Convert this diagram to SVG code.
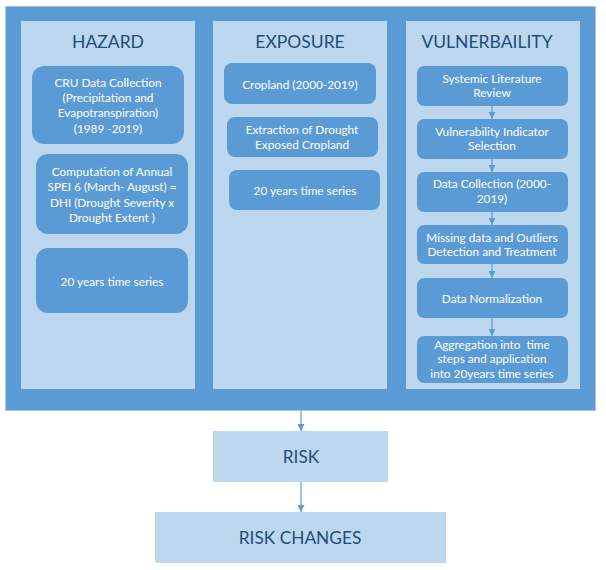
<svg xmlns="http://www.w3.org/2000/svg" width="606" height="570" viewBox="0 0 606 570">
<defs>
<style>
.outer{fill:#5b9bd5;stroke:#a7c7e8;stroke-width:1}
.col{fill:#bdd7ee}
.box{fill:#5b9bd5}
.t{font-family:Lato,"Liberation Sans",sans-serif;font-size:11.8px;fill:#ffffff;text-anchor:middle}
.title{font-family:Lato,"Liberation Sans",sans-serif;font-size:17.5px;fill:#1f4e79;text-anchor:middle}
.res{fill:#bdd7ee}
.rt{font-family:Lato,"Liberation Sans",sans-serif;font-size:17.3px;fill:#1f4e79;text-anchor:middle}
.c{stroke:#5b9bd5;stroke-width:1.2;fill:none;marker-end:url(#ah)}
</style>
<marker id="ah" viewBox="0 0 10 10" refX="10" refY="5" markerWidth="7" markerHeight="7" markerUnits="userSpaceOnUse" orient="auto">
<path d="M0,0 L10,5 L0,10 z" fill="#5b9bd5"/>
</marker>
</defs>
<rect width="606" height="570" fill="#ffffff"/>
<g id="frame">
<rect class="outer" x="5.5" y="6.5" width="590" height="404"/>
</g>
<g id="hazard">
<rect class="col" x="21" y="21" width="174" height="368"/>
<text class="title" x="108" y="48">HAZARD</text>
</g>
<g id="hazard-cru">
<rect class="box" x="32" y="66" width="152" height="78" rx="12"/>
<text class="t" x="108" y="87">CRU Data Collection</text>
<text class="t" x="108" y="102">(Precipitation and</text>
<text class="t" x="108" y="117">Evapotranspiration)</text>
<text class="t" x="108" y="133">(1989 -2019)</text>
</g>
<g id="hazard-spei">
<rect class="box" x="36" y="154" width="152" height="80" rx="12"/>
<text class="t" x="112" y="176">Computation of Annual</text>
<text class="t" x="112" y="191">SPEI 6 (March- August) =</text>
<text class="t" x="112" y="207">DHI (Drought Severity x</text>
<text class="t" x="112" y="222">Drought Extent )</text>
</g>
<g id="hazard-ts">
<rect class="box" x="36" y="248" width="152" height="65" rx="12"/>
<text class="t" x="112" y="286">20 years time series</text>
</g>
<g id="exposure">
<rect class="col" x="213" y="21" width="174" height="368"/>
<text class="title" x="300" y="48">EXPOSURE</text>
</g>
<g id="exp-crop">
<rect class="box" x="224" y="63" width="152" height="41" rx="8"/>
<text class="t" x="300" y="89">Cropland (2000-2019)</text>
</g>
<g id="exp-extract">
<rect class="box" x="227" y="117" width="151" height="40" rx="8"/>
<text class="t" x="302" y="134">Extraction of Drought</text>
<text class="t" x="302" y="149">Exposed Cropland</text>
</g>
<g id="exp-ts">
<rect class="box" x="229" y="170" width="151" height="40" rx="8"/>
<text class="t" x="305" y="195">20 years time series</text>
</g>
<g id="vulnerability">
<rect class="col" x="406" y="21" width="174" height="368"/>
<text class="title" x="487" y="48">VULNERBAILITY</text>
</g>
<g id="v1">
<rect class="box" x="417" y="66" width="151" height="40" rx="7"/>
<text class="t" x="492" y="83">Systemic Literature</text>
<text class="t" x="492" y="97">Review</text>
</g>
<g id="v2">
<rect class="box" x="417" y="119" width="151" height="40" rx="7"/>
<text class="t" x="492" y="136">Vulnerability Indicator</text>
<text class="t" x="492" y="150">Selection</text>
</g>
<g id="v3">
<rect class="box" x="417" y="172" width="151" height="40" rx="7"/>
<text class="t" x="492" y="188">Data Collection (2000-</text>
<text class="t" x="492" y="203">2019)</text>
</g>
<g id="v4">
<rect class="box" x="417" y="225" width="151" height="39" rx="7"/>
<text class="t" x="492" y="242">Missing data and Outliers</text>
<text class="t" x="492" y="256">Detection and Treatment</text>
</g>
<g id="v5">
<rect class="box" x="417" y="278" width="151" height="40" rx="7"/>
<text class="t" x="492" y="303">Data Normalization</text>
</g>
<g id="v6">
<rect class="box" x="417" y="336" width="151" height="47" rx="7"/>
<text class="t" x="492" y="349" xml:space="preserve">Aggregation into  time</text>
<text class="t" x="492" y="363">steps and application</text>
<text class="t" x="492" y="378">into 20years time series</text>
</g>
<g id="risk">
<rect class="res" x="213" y="431" width="175" height="51"/>
<text class="rt" x="301" y="463">RISK</text>
</g>
<g id="risk-changes">
<rect class="res" x="155" y="512" width="291" height="51"/>
<text class="rt" x="300" y="544">RISK CHANGES</text>
</g>
<g id="connectors">
<line class="c" x1="492" y1="106" x2="492" y2="119"/>
<line class="c" x1="492" y1="159" x2="492" y2="172"/>
<line class="c" x1="492" y1="212" x2="492" y2="225"/>
<line class="c" x1="492" y1="264" x2="492" y2="278"/>
<line class="c" x1="492" y1="318" x2="492" y2="336"/>
<line class="c" x1="301" y1="411" x2="301" y2="431"/>
<line class="c" x1="301" y1="482" x2="301" y2="512"/>
</g>
</svg>
